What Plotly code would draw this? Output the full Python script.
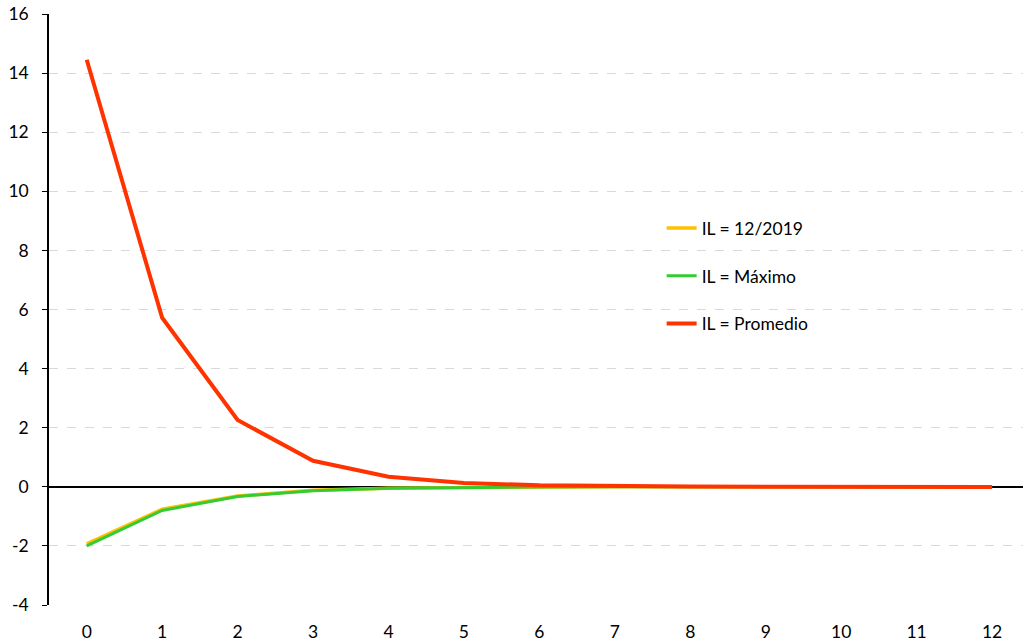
import plotly.graph_objects as go

periods = list(range(13))
il_2019 = [-1.93, -0.76, -0.31, -0.12, -0.05, -0.02, -0.01, 0.0, 0.0, 0.0, 0.0, 0.0, 0.0]
il_maximo = [-2.0, -0.80, -0.33, -0.13, -0.05, -0.02, -0.01, 0.0, 0.0, 0.0, 0.0, 0.0, 0.0]
il_promedio = [14.45, 5.72, 2.26, 0.88, 0.34, 0.13, 0.05, 0.02, 0.01, 0.0, 0.0, 0.0, -0.01]
y_ticks = [-4, -2, 0, 2, 4, 6, 8, 10, 12, 14, 16]
y_tick_labels = ["-4", "-2", "0", "2", "4", "6", "8", "10", "12", "14", "16"]

names = ["IL = 12/2019", "IL = Máximo", "IL = Promedio"]
colors = ["#FFC000", "#33CC33", "#FF3300"]
widths = [3.5, 3, 4]

fig = go.Figure()
for i, (vals, nm, c, w) in enumerate(zip([il_2019, il_maximo, il_promedio], names, colors, widths)):
    fig.add_trace(go.Scatter(x=periods, y=vals, mode="lines", name=nm,
                             line=dict(color=c, width=w), legendgroup=f"g{i}"))

fig.update_layout(
    width=1023, height=644,
    margin=dict(l=49, r=0, t=14, b=39, autoexpand=False),
    plot_bgcolor="white", paper_bgcolor="white",
    font=dict(family="Lato, Open Sans, sans-serif", size=17.5, color="#000000"),
    showlegend=True,
    legend=dict(x=0.629, y=0.668, xanchor="left", yanchor="top",
                traceorder="grouped", tracegroupgap=22,
                font=dict(size=17.5), bgcolor="rgba(0,0,0,0)"),
    xaxis=dict(range=[-0.5, 12.41], tickmode="array", tickvals=periods,
               ticktext=[str(p) for p in periods], showgrid=False, zeroline=False,
               showline=False, ticks="outside", ticklen=11, tickcolor="rgba(0,0,0,0)",
               automargin=False, ticklabeloverflow="allow"),
    yaxis=dict(range=[-4, 16], tickmode="array", tickvals=y_ticks, ticktext=y_tick_labels,
               showgrid=True, gridcolor="#D9D9D9",
               griddash="dash", gridwidth=1, zeroline=True, zerolinecolor="#000000",
               zerolinewidth=1.5, showline=True, linecolor="#000000", linewidth=1.5,
               ticks="outside", ticklen=5, tickcolor="#000000", ticklabelstandoff=10,
               automargin=False, ticklabeloverflow="allow"),
)

fig.write_html("out.html", config={"displayModeBar": False},
               post_script="document.body.style.margin='0';")
